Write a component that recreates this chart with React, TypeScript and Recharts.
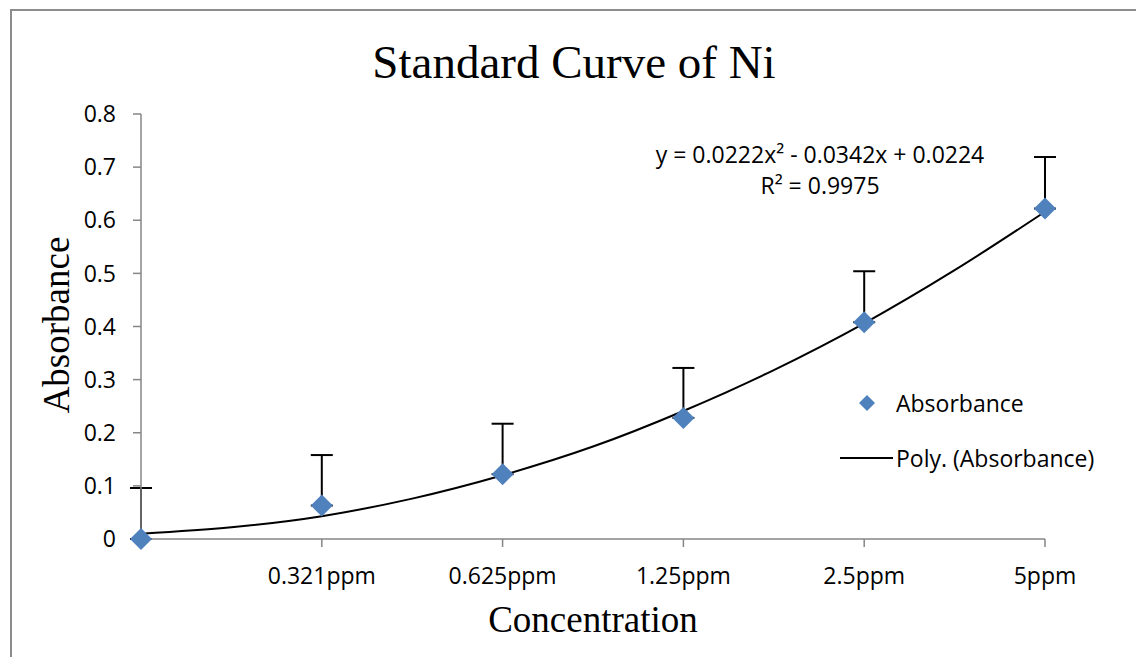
import {
  ComposedChart, Scatter, Line, XAxis, YAxis, ErrorBar,
} from 'recharts'

// concentration categories (first point has no label)
const categories = ['', '0.321ppm', '0.625ppm', '1.25ppm', '2.5ppm', '5ppm']
const positions = [1, 2, 3, 4, 5, 6]
const absorbance = [0, 0.063, 0.122, 0.228, 0.408, 0.622]
const errorUp = [0.096, 0.095, 0.095, 0.094, 0.096, 0.097]
const yTicks = [0, 0.1, 0.2, 0.3, 0.4, 0.5, 0.6, 0.7, 0.8]

// polynomial trendline
const trendX = [1, 1.5, 2, 2.5, 3, 3.5, 4, 4.5, 5, 5.5, 6]
const trendY = [0.010, 0.022, 0.043, 0.076, 0.120, 0.174, 0.241, 0.318, 0.406, 0.506, 0.616]

const points = positions.map((x, i) => ({ x, y: absorbance[i], err: [0, errorUp[i]] }))
const trend = trendX.map((x, i) => ({ x, y: trendY[i] }))

const BLUE = '#4F81BD'
const AXIS = '#868686'
const SANS = '"Open Sans", sans-serif'
const SERIF = '"Liberation Serif", "Times New Roman", serif'

function Diamond(props: { cx?: number; cy?: number }) {
  const { cx = 0, cy = 0 } = props
  const r = 11
  return <polygon points={`${cx},${cy - r} ${cx + r},${cy} ${cx},${cy + r} ${cx - r},${cy}`} fill={BLUE} />
}

// error bars only, no marker (the diamonds are drawn on top by a second series)
const NoShape = () => <g />

function LegendBox() {
  return (
    <div style={{ position: 'absolute', left: 838, top: 388, fontFamily: SANS, fontSize: 23, color: '#000', whiteSpace: 'nowrap' }}>
      <div style={{ display: 'flex', alignItems: 'center', height: 30 }}>
        <svg width={58} height={30}>
          <polygon points="29,7 37,15 29,23 21,15" fill={BLUE} />
        </svg>
        <span>Absorbance</span>
      </div>
      <div style={{ display: 'flex', alignItems: 'center', height: 30, marginTop: 25 }}>
        <svg width={58} height={30}>
          <line x1={2} y1={15} x2={55} y2={15} stroke="#000" strokeWidth={2} />
        </svg>
        <span>Poly. (Absorbance)</span>
      </div>
    </div>
  )
}

export default function App() {
  return (
    <div style={{ position: 'absolute', left: 0, top: 0, width: 1136, height: 657, overflow: 'hidden', background: '#fff' }}>
      <div style={{
        position: 'absolute', left: 10, top: 9, width: 1300, height: 800,
        borderLeft: '2px solid #8c8c8c', borderTop: '2px solid #8c8c8c',
      }} />
      <ComposedChart width={1136} height={657} margin={{ top: 114, right: 91, left: 81, bottom: 88 }}>
        <XAxis
          type="number"
          dataKey="x"
          domain={[1, 6]}
          ticks={positions}
          tickFormatter={(v: number) => categories[v - 1]}
          stroke={AXIS}
          strokeWidth={1.5}
          tickSize={8}
          tickMargin={21}
          height={30}
          tick={{ fontSize: 23, fontFamily: SANS, fill: '#000' }}
        />
        <YAxis
          type="number"
          domain={[0, 0.8]}
          ticks={yTicks}
          stroke={AXIS}
          strokeWidth={1.5}
          tickSize={8}
          tickMargin={17}
          width={60}
          tick={{ fontSize: 23, fontFamily: SANS, fill: '#000' }}
        />
        <Scatter data={points} dataKey="y" shape={<NoShape />} isAnimationActive={false}>
          <ErrorBar dataKey="err" direction="y" width={11} stroke="#000" strokeWidth={2} />
        </Scatter>
        <Scatter data={points} dataKey="y" shape={<Diamond />} isAnimationActive={false} />
        <Line
          data={trend}
          dataKey="y"
          type="monotone"
          stroke="#000"
          strokeWidth={2}
          dot={false}
          activeDot={false}
          isAnimationActive={false}
        />
      </ComposedChart>
      <LegendBox />
      <div style={{ position: 'absolute', left: 574, top: 32, transform: 'translateX(-50%)', fontFamily: SERIF, fontSize: 47, lineHeight: '60px', whiteSpace: 'nowrap' }}>
        Standard Curve of Ni
      </div>
      <div style={{ position: 'absolute', left: 593, top: 598, transform: 'translateX(-50%)', fontFamily: SERIF, fontSize: 37, whiteSpace: 'nowrap', lineHeight: '44px' }}>
        Concentration
      </div>
      <div style={{ position: 'absolute', left: 57, top: 325, transform: 'translate(-50%, -50%) rotate(-90deg)', fontFamily: SERIF, fontSize: 37, whiteSpace: 'nowrap', lineHeight: '44px' }}>
        Absorbance
      </div>
      <div style={{ position: 'absolute', left: 820, top: 139, transform: 'translateX(-50%)', fontFamily: SANS, fontSize: 23, whiteSpace: 'nowrap', lineHeight: '31px', textAlign: 'center' }}>
        <div>y = 0.0222x² - 0.0342x + 0.0224</div>
        <div>R² = 0.9975</div>
      </div>
    </div>
  )
}
